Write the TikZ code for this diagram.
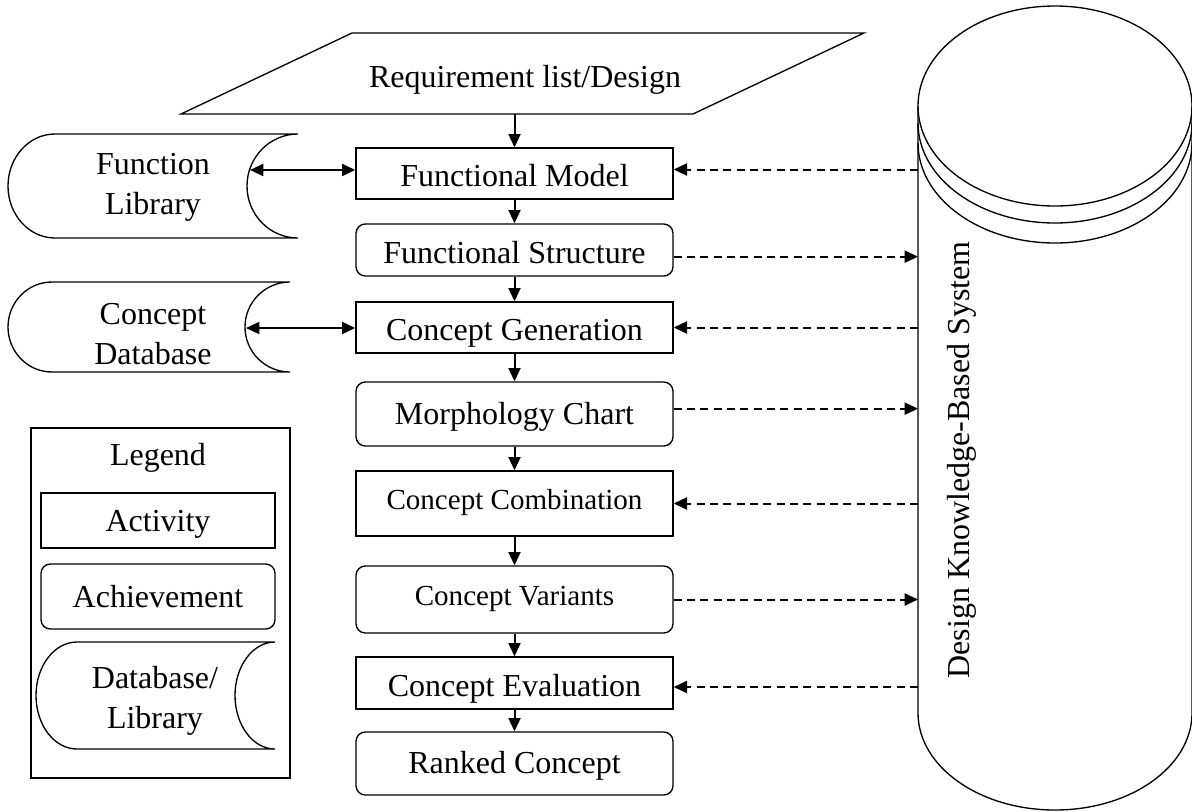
\documentclass[tikz,border=0pt]{standalone}
\usepackage{fontspec}
\setmainfont{Liberation Serif}
\usetikzlibrary{arrows.meta}
\usetikzlibrary{positioning}

\newcommand{\px}{0.75pt}
% stored-data outline: convex on the left, hollow on the right
\newcommand{\dbshape}[6]{%
    \draw[line width=1pt] (#3,#2) -- (#1,#2)
        arc[start angle=270, end angle=90, x radius=#5, y radius={(#4-#2)/2}]
        -- (#3,#4)
        arc[start angle=90, end angle=270, x radius=#6, y radius={(#4-#2)/2}]
        -- cycle;}

\tikzset{
    txt/.style={align=center, inner sep=0pt, font=\fontsize{24}{30}\selectfont},
    activity/.style={txt, draw, rectangle, line width=1pt, minimum width=317*\px,
        text height=19.5pt, text depth=0pt},
    achieve/.style={activity, rounded corners=7pt},
    flow/.style={->, line width=1.5pt},
    link/.style={->, line width=1.5pt, dash pattern=on 6pt off 4pt},
    >={Triangle[length=10pt, width=9pt]}
}

\begin{document}
\begin{tikzpicture}[x=0.75pt, y=-0.75pt]
    \useasboundingbox (0,0) rectangle (1192,811);

    % input
    \draw[line width=1pt] (181,114) -- (352,33) -- (864,33) -- (693,114) -- cycle;
    \node[txt, anchor=base] (req) at (525,87) {Requirement list/Design};
    \coordinate (reqB) at (516,114);

    % main chain
    \node[activity, minimum height=51*\px] (fm) at (514.5,173.5) {Functional Model};
    \node[achieve, minimum height=52*\px] (fs) at (514.5,250) {Functional Structure};
    \node[activity, minimum height=51*\px] (cg) at (514.5,327.5) {Concept Generation};
    \node[achieve, minimum height=64*\px, text depth=4.5pt] (mc) at (514.5,414) {Morphology Chart};
    \node[activity, minimum height=65*\px, text depth=10.5pt, font=\fontsize{21.8}{26}\selectfont] (cc) at (514.5,503.5) {Concept Combination};
    \node[achieve, minimum height=67*\px, text depth=10.5pt, font=\fontsize{21.8}{26}\selectfont] (cv) at (514.5,599.5) {Concept Variants};
    \node[activity, minimum height=52*\px] (ce) at (514.5,683) {Concept Evaluation};
    \node[achieve, minimum height=63*\px, text depth=4.5pt] (rc) at (514.5,763.5) {Ranked Concept};

    \draw[flow] (fm.north |- reqB) -- (fm.north);
    \foreach \a/\b in {fm/fs, fs/cg, cg/mc, mc/cc, cc/cv, cv/ce, ce/rc}{
        \draw[flow] (\a) -- (\b);
    }

    % libraries
    \dbshape{55}{134}{298}{238}{47}{51}
    \node[txt] (flib) at (153,187) {Function\\Library};
    \coordinate (flibR) at (250,170);
    \dbshape{52}{282}{290}{372}{44}{45}
    \node[txt] (cdb) at (153,334) {Concept\\Database};
    \coordinate (cdbR) at (246,328);

    \draw[flow, <->] (flibR) -- (fm.west |- flibR);
    \draw[flow, <->] (cdbR) -- (cg.west |- cdbR);

    % knowledge base
    \draw[line width=1pt] (918,106) -- (918,713)
        arc[start angle=180, end angle=0, x radius=137, y radius=97]
        -- (1192,106);
    \draw[line width=1pt] (1055,106) ellipse[x radius=137, y radius=100];
    \foreach \d in {17,37}{
        \draw[line width=1pt] (918,106+\d) arc[start angle=180, end angle=0, x radius=137, y radius=100];
    }
    \coordinate (kbs) at (918,0);
    \node[txt, rotate=90] (kbsText) at (962,460) {Design Knowledge-Based System};

    \foreach \n/\dy in {fm/3, cg/0, cc/0, ce/-3}{
        \coordinate (tip) at ([yshift=\dy pt]\n.east);
        \draw[link] (kbs |- tip) -- (tip);
    }
    \foreach \n/\dy in {fs/-5, mc/4, cv/0}{
        \coordinate (tail) at ([yshift=\dy pt]\n.east);
        \draw[link] (tail) -- (kbs |- tail);
    }

    % legend
    \node[draw, line width=1pt, minimum width=259*\px, minimum height=350*\px] (legend) at (160.5,603) {};
    \node[txt] (legendT) at (158,458) {Legend};
    \node[activity, minimum width=234*\px, minimum height=55*\px, text depth=3pt] (lgAct) at (158,520.5) {Activity};
    \node[achieve, minimum width=234*\px, minimum height=65*\px, text depth=3pt] (lgAch) at (158,596.5) {Achievement};
    \dbshape{77}{642}{275}{749}{41}{40}
    \node[txt] (lgDb) at (155,701) {Database/\\Library};
\end{tikzpicture}
\end{document}
